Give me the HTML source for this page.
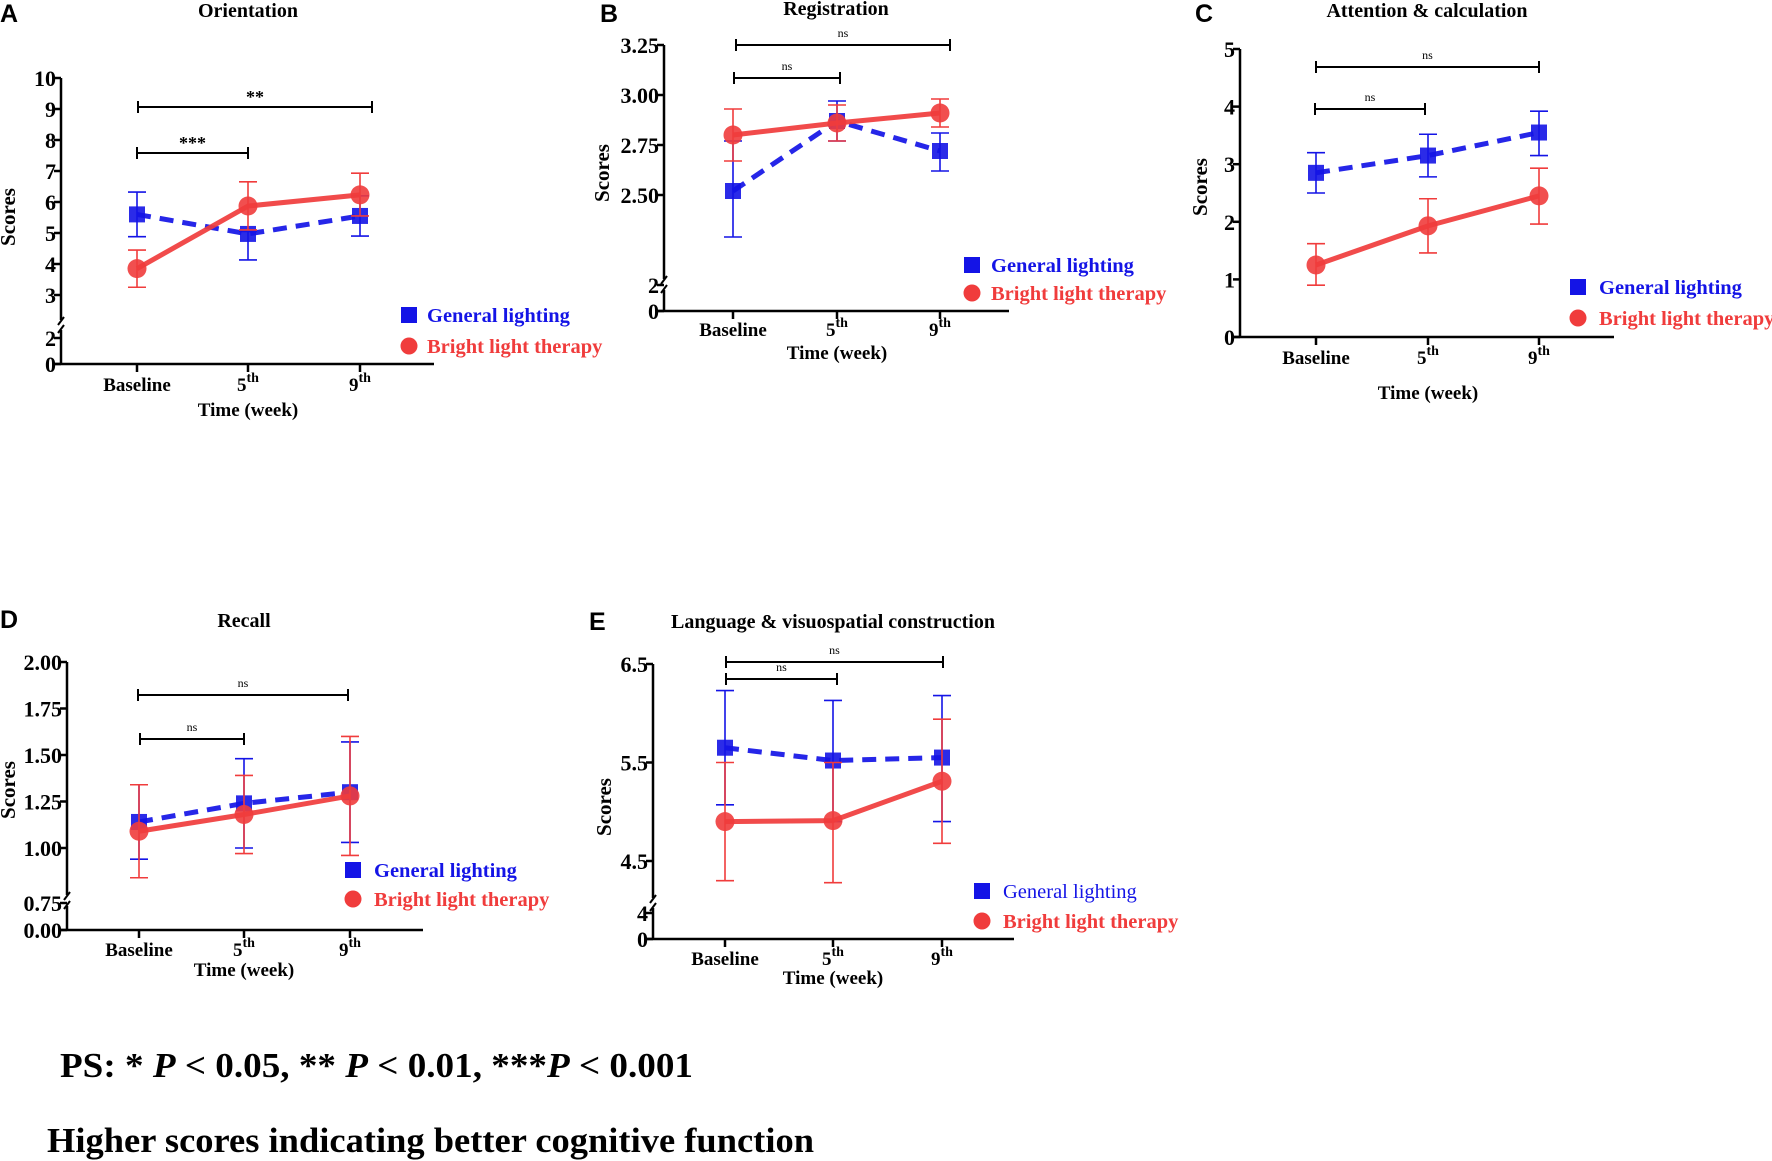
<!DOCTYPE html>
<html><head><meta charset="utf-8">
<style>
html,body{margin:0;padding:0;background:#fff;}
svg{display:block;font-family:"Liberation Serif",serif;}
.ttl{font-weight:bold;font-size:20px;}
.lab{font-family:"Liberation Sans",sans-serif;font-weight:bold;font-size:25px;}
</style></head>
<body>
<svg id="fig" width="1772" height="1161" viewBox="0 0 1772 1161" xmlns="http://www.w3.org/2000/svg">
<text class="lab" x="0" y="22">A</text>
<text class="lab" x="600" y="22">B</text>
<text class="lab" x="1195" y="22">C</text>
<text class="lab" x="0" y="628">D</text>
<text class="lab" x="589" y="630">E</text>
<text x="60" y="1077" font-size="35" font-weight="bold" textLength="633" lengthAdjust="spacingAndGlyphs">PS: * <tspan font-style="italic">P</tspan> &lt; 0.05, ** <tspan font-style="italic">P</tspan> &lt; 0.01, ***<tspan font-style="italic">P</tspan> &lt; 0.001</text>
<text x="47" y="1152" font-size="35" font-weight="bold" textLength="767" lengthAdjust="spacingAndGlyphs">Higher scores indicating better cognitive function</text>
</svg>
<script>
// ---- data ----
const categories = ['Baseline', '5', '9'];
const catSup = ['', 'th', 'th'];
// Panel A Orientation
const aGL = [5.6, 4.97, 5.55];
const aGLlo = [4.88, 4.13, 4.9];
const aGLhi = [6.32, 5.05, 6.2];
const aBLT = [3.85, 5.87, 6.23];
const aBLTlo = [3.25, 5.1, 5.55];
const aBLThi = [4.45, 6.65, 6.93];
const aTicks = [3, 4, 5, 6, 7, 8, 9, 10];
const aLowTicks = [0, 2];
// Panel B Registration
const bGL = [2.52, 2.87, 2.72];
const bGLlo = [2.29, 2.77, 2.62];
const bGLhi = [2.77, 2.97, 2.81];
const bBLT = [2.80, 2.86, 2.91];
const bBLTlo = [2.67, 2.77, 2.84];
const bBLThi = [2.93, 2.95, 2.98];
const bTicks = [2.5, 2.75, 3.0, 3.25];
const bLowTicks = [0, 2];
// Panel C Attention & calculation
const cGL = [2.85, 3.15, 3.55];
const cGLlo = [2.5, 2.78, 3.15];
const cGLhi = [3.2, 3.52, 3.92];
const cBLT = [1.25, 1.93, 2.45];
const cBLTlo = [0.9, 1.46, 1.96];
const cBLThi = [1.62, 2.4, 2.93];
const cTicks = [0, 1, 2, 3, 4, 5];
const cLowTicks = [];
// Panel D Recall
const dGL = [1.14, 1.24, 1.30];
const dGLlo = [0.94, 1.00, 1.03];
const dGLhi = [1.34, 1.48, 1.57];
const dBLT = [1.09, 1.18, 1.28];
const dBLTlo = [0.84, 0.97, 0.96];
const dBLThi = [1.34, 1.39, 1.60];
const dTicks = [1.0, 1.25, 1.5, 1.75, 2.0];
const dLowTicks = [0, 0.75];
// Panel E Language & visuospatial construction
const eGL = [5.65, 5.52, 5.55];
const eGLlo = [5.07, 4.9, 4.9];
const eGLhi = [6.23, 6.13, 6.18];
const eBLT = [4.9, 4.91, 5.31];
const eBLTlo = [4.3, 4.28, 4.68];
const eBLThi = [5.5, 5.5, 5.94];
const eTicks = [4.5, 5.5, 6.5];
const eLowTicks = [0, 4];

const NS = 'http://www.w3.org/2000/svg';
const svg = document.getElementById('fig');
function mk(tag, attrs, parent) {
  const el = document.createElementNS(NS, tag);
  for (const k in attrs) el.setAttribute(k, attrs[k]);
  (parent || svg).appendChild(el);
  return el;
}
const BLUE = '#1414e6', RED = '#f03c3c';

function panel(p) {
  const g = mk('g', {});
  
  
  const k = (p.p1 - p.p0) / (p.v1 - p.v0);
  const y = v => p.p0 + (v - p.v0) * k;
  const yl = v => p.zeroPx - v * p.kl;
  const x = i => p.xs[i];
  const t = mk('text', {x: p.titleX, y: p.titleY, 'text-anchor': 'middle', class: 'ttl'}, g);
  t.textContent = p.title;
  
  
  const ya = mk('g', {stroke: '#000', 'stroke-width': 2.5, fill: 'none'}, g);
  
  
  if (p.breakTop) {
    mk('line', {x1: p.ax, y1: p.zeroPx, x2: p.ax, y2: p.breakBot}, ya);
    mk('line', {x1: p.ax, y1: p.breakTop, x2: p.ax, y2: y(p.tickMax)}, ya);
    mk('line', {x1: p.ax - 3, y1: p.breakBot + 3, x2: p.ax + 3, y2: p.breakBot - 5, 'stroke-width': 2}, ya);
    mk('line', {x1: p.ax - 3, y1: p.breakTop + 5, x2: p.ax + 3, y2: p.breakTop - 3, 'stroke-width': 2}, ya);
  } else {
    mk('line', {x1: p.ax, y1: p.zeroPx, x2: p.ax, y2: y(p.tickMax)}, ya);
  }
  p.ticks.forEach(v => {
    mk('line', {x1: p.ax - 7, y1: y(v), x2: p.ax, y2: y(v)}, ya);
    const tl = mk('text', {x: p.ax - 5, y: y(v) + 8, 'text-anchor': 'end', 'font-size': 22, 'font-weight': 'bold', stroke: 'none', fill: '#000'}, g);
    tl.textContent = v.toFixed(p.dec);
    
    
  });
  p.lowTicks.forEach(v => {
    mk('line', {x1: p.ax - 7, y1: yl(v), x2: p.ax, y2: yl(v)}, ya);
    const tl = mk('text', {x: p.ax - 5, y: yl(v) + 8, 'text-anchor': 'end', 'font-size': 22, 'font-weight': 'bold', fill: '#000'}, g);
    tl.textContent = v.toFixed(p.lowDec);
    
    
  });
  const yt = mk('text', {x: 0, y: 0, 'text-anchor': 'middle', 'font-size': 21, 'font-weight': 'bold', transform: 'translate(' + p.yLabX + ',' + p.yLabY + ') rotate(-90)'}, g);
  yt.textContent = 'Scores';
  
  
  const xa = mk('g', {stroke: '#000', 'stroke-width': 2.5}, g);
  
  
  mk('line', {x1: p.ax - 8, y1: p.zeroPx, x2: p.xEnd, y2: p.zeroPx}, xa);
  categories.forEach((c, i) => {
    mk('line', {x1: x(i), y1: p.zeroPx, x2: x(i), y2: p.zeroPx + 8}, xa);
    const tl = mk('text', {x: x(i), y: p.catY, 'text-anchor': 'middle', 'font-size': 19, 'font-weight': 'bold'}, g);
    
    
    tl.appendChild(document.createTextNode(c));
    if (catSup[i]) {
      const s = mk('tspan', {dy: -9, 'font-size': 14}, tl);
      s.textContent = catSup[i];
    }
  });
  const xt = mk('text', {x: x(1), y: p.timeY, 'text-anchor': 'middle', 'font-size': 19, 'font-weight': 'bold'}, g);
  xt.textContent = 'Time (week)';
  
  
  p.brackets.forEach(b => {
    const bg = mk('g', {stroke: '#000', 'stroke-width': 2}, g);
    
    
    mk('line', {x1: b.x1, y1: b.y, x2: b.x2, y2: b.y}, bg);
    mk('line', {x1: b.x1, y1: b.y - 6, x2: b.x1, y2: b.y + 6}, bg);
    mk('line', {x1: b.x2, y1: b.y - 6, x2: b.x2, y2: b.y + 6}, bg);
    const bt = mk('text', {x: (b.x1 + b.x2) / 2, y: b.y - (b.label === 'ns' ? 8 : 4), 'text-anchor': 'middle', 'font-size': b.label === 'ns' ? 12 : 18, 'font-weight': b.label === 'ns' ? 'normal' : 'bold', stroke: 'none'}, g);
    bt.textContent = b.label;
    
    
  });
  const series = [
    {name: 'general-lighting', v: p.gl, lo: p.gllo, hi: p.glhi, col: BLUE, dash: '14 9', sq: true},
    {name: 'bright-light-therapy', v: p.blt, lo: p.bltlo, hi: p.blthi, col: RED, dash: null, sq: false}
  ];
  series.forEach(s => {
    const sg = mk('g', {}, g);
    
    
    s.v.forEach((v, i) => {
      const e = mk('g', {stroke: s.col, 'stroke-width': 1.6}, sg);
      
      
      mk('line', {x1: x(i), y1: y(s.lo[i]), x2: x(i), y2: y(s.hi[i])}, e);
      mk('line', {x1: x(i) - 9, y1: y(s.lo[i]), x2: x(i) + 9, y2: y(s.lo[i])}, e);
      mk('line', {x1: x(i) - 9, y1: y(s.hi[i]), x2: x(i) + 9, y2: y(s.hi[i])}, e);
    });
    const pts = s.v.map((v, i) => x(i) + ',' + y(v)).join(' ');
    const ln = mk('polyline', {points: pts, fill: 'none', stroke: s.col, 'stroke-width': 5, 'stroke-dasharray': s.dash || 'none', opacity: 0.92}, sg);
    
    
    s.v.forEach((v, i) => {
      let m;
      if (s.sq) m = mk('rect', {x: x(i) - 8, y: y(v) - 8, width: 16, height: 16, fill: s.col, opacity: 0.9}, sg);
      else m = mk('circle', {cx: x(i), cy: y(v), r: 9.5, fill: s.col, opacity: 0.9}, sg);
      
      
    });
  });
  const lg = mk('g', {}, g);
  
  
  const ls = mk('rect', {x: p.legX - 8, y: p.legY1 - 8, width: 16, height: 16, fill: BLUE}, lg);
  
  
  const lt1 = mk('text', {x: p.legTX, y: p.legY1 + 7, 'font-size': 20.5, 'font-weight': p.glNormal ? 'normal' : 'bold', fill: BLUE}, lg);
  lt1.textContent = 'General lighting';
  
  
  const lc = mk('circle', {cx: p.legX, cy: p.legY2, r: 8.5, fill: RED}, lg);
  
  
  const lt2 = mk('text', {x: p.legTX, y: p.legY2 + 7, 'font-size': 20.5, 'font-weight': 'bold', fill: RED}, lg);
  lt2.textContent = 'Bright light therapy';
  
  
}

panel({id: 'a-orientation', title: 'Orientation', titleX: 248, titleY: 17,
  ax: 61, xEnd: 434, xs: [137, 248, 360], v0: 3, p0: 295, v1: 10, p1: 78, tickMax: 10,
  zeroPx: 364, kl: 13, breakBot: 330, breakTop: 320, ticks: aTicks, lowTicks: aLowTicks, dec: 0, lowDec: 0,
  yLabX: 15, yLabY: 217, catY: 391, timeY: 416,
  brackets: [{x1: 137, x2: 248, y: 153, label: '***'}, {x1: 138, x2: 372, y: 107, label: '**'}],
  gl: aGL, gllo: aGLlo, glhi: aGLhi, blt: aBLT, bltlo: aBLTlo, blthi: aBLThi,
  legX: 409, legY1: 315, legY2: 346, legTX: 427});
panel({id: 'b-registration', title: 'Registration', titleX: 836, titleY: 15,
  ax: 664, xEnd: 1009, xs: [733, 837, 940], v0: 2.5, p0: 195, v1: 3.25, p1: 45, tickMax: 3.25,
  zeroPx: 311, kl: 13, breakBot: 290, breakTop: 279, ticks: bTicks, lowTicks: bLowTicks, dec: 2, lowDec: 0,
  yLabX: 609, yLabY: 173, catY: 336, timeY: 359,
  brackets: [{x1: 734, x2: 840, y: 78, label: 'ns'}, {x1: 736, x2: 950, y: 45, label: 'ns'}],
  gl: bGL, gllo: bGLlo, glhi: bGLhi, blt: bBLT, bltlo: bBLTlo, blthi: bBLThi,
  legX: 972, legY1: 265, legY2: 293, legTX: 991});
panel({id: 'c-attention', title: 'Attention & calculation', titleX: 1427, titleY: 17,
  ax: 1240, xEnd: 1614, xs: [1316, 1428, 1539], v0: 0, p0: 337, v1: 5, p1: 49, tickMax: 5,
  zeroPx: 337, kl: 57.6, breakBot: null, breakTop: null, ticks: cTicks, lowTicks: cLowTicks, dec: 0, lowDec: 0,
  yLabX: 1207, yLabY: 187, catY: 364, timeY: 399,
  brackets: [{x1: 1315, x2: 1425, y: 109, label: 'ns'}, {x1: 1316, x2: 1539, y: 67, label: 'ns'}],
  gl: cGL, gllo: cGLlo, glhi: cGLhi, blt: cBLT, bltlo: cBLTlo, blthi: cBLThi,
  legX: 1578, legY1: 287, legY2: 318, legTX: 1599});
panel({id: 'd-recall', title: 'Recall', titleX: 244, titleY: 627,
  ax: 67, xEnd: 423, xs: [139, 244, 350], v0: 1.0, p0: 848, v1: 2.0, p1: 662, tickMax: 2.0,
  zeroPx: 930, kl: 36, breakBot: 906, breakTop: 895, ticks: dTicks, lowTicks: dLowTicks, dec: 2, lowDec: 2,
  yLabX: 15, yLabY: 790, catY: 956, timeY: 976,
  brackets: [{x1: 140, x2: 244, y: 739, label: 'ns'}, {x1: 138, x2: 348, y: 695, label: 'ns'}],
  gl: dGL, gllo: dGLlo, glhi: dGLhi, blt: dBLT, bltlo: dBLTlo, blthi: dBLThi,
  legX: 353, legY1: 870, legY2: 899, legTX: 374});
panel({id: 'e-language', title: 'Language & visuospatial construction', titleX: 833, titleY: 628,
  ax: 653, xEnd: 1014, xs: [725, 833, 942], v0: 4.5, p0: 861, v1: 6.5, p1: 664, tickMax: 6.5,
  zeroPx: 939, kl: 6.5, breakBot: 908, breakTop: 898, ticks: eTicks, lowTicks: eLowTicks, dec: 1, lowDec: 0,
  yLabX: 611, yLabY: 807, catY: 965, timeY: 984,
  brackets: [{x1: 726, x2: 837, y: 679, label: 'ns'}, {x1: 726, x2: 943, y: 662, label: 'ns'}],
  gl: eGL, gllo: eGLlo, glhi: eGLhi, blt: eBLT, bltlo: eBLTlo, blthi: eBLThi, glNormal: true,
  legX: 982, legY1: 891, legY2: 921, legTX: 1003});
</script>
</body></html>
